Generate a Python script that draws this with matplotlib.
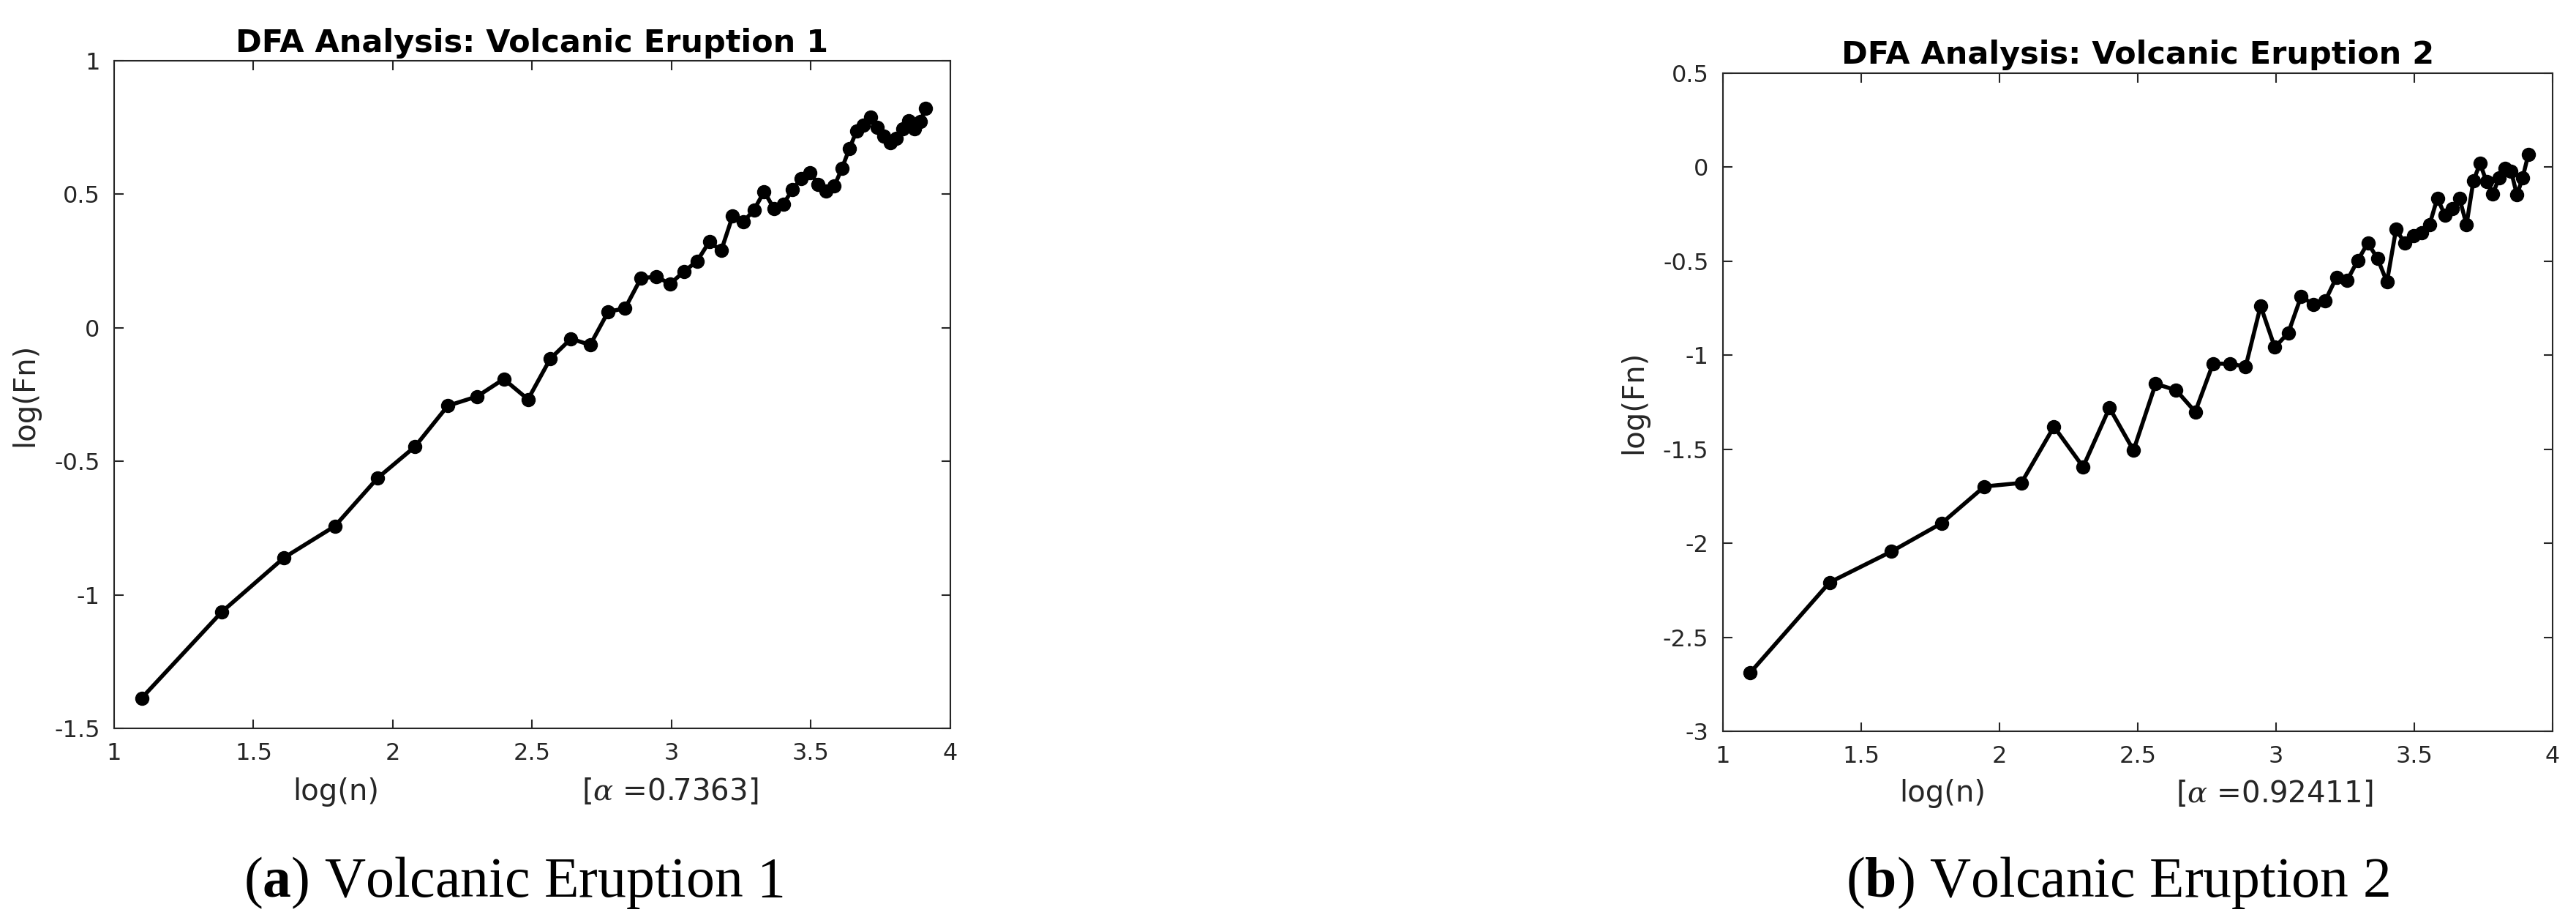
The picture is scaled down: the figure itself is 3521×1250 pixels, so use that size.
import numpy as np
import matplotlib.pyplot as plt
from matplotlib.ticker import FormatStrFormatter

plt.rcParams['font.family'] = 'DejaVu Sans'
plt.rcParams['axes.unicode_minus'] = False
plt.rcParams['mathtext.fontset'] = 'custom'
plt.rcParams['mathtext.rm'] = 'Liberation Serif'
plt.rcParams['mathtext.bf'] = 'Liberation Serif:bold'
plt.rcParams['mathtext.it'] = 'DejaVu Serif:italic'

# window sizes n (x axis is log(n))
window_sizes = [3, 4, 5, 6, 7, 8, 9, 10, 11, 12, 13, 14, 15, 16, 17, 18, 19, 20,
                21, 22, 23, 24, 25, 26, 27, 28, 29, 30, 31, 32, 33, 34, 35, 36,
                37, 38, 39, 40, 41, 42, 43, 44, 45, 46, 47, 48, 49, 50]

# log(Fn), eruption 1
logF_1 = [-1.387, -1.064, -0.861, -0.743, -0.562, -0.445, -0.292, -0.257,
          -0.192, -0.268, -0.116, -0.041, -0.064, 0.060, 0.073, 0.186,
          0.191, 0.165, 0.211, 0.249, 0.322, 0.289, 0.418, 0.397,
          0.442, 0.510, 0.447, 0.464, 0.517, 0.560, 0.581, 0.538,
          0.512, 0.530, 0.596, 0.670, 0.736, 0.760, 0.788, 0.750,
          0.718, 0.692, 0.710, 0.745, 0.775, 0.745, 0.772, 0.823]

# log(Fn), eruption 2
logF_2 = [-2.689, -2.208, -2.044, -1.893, -1.698, -1.679, -1.380, -1.594,
          -1.280, -1.506, -1.152, -1.186, -1.301, -1.044, -1.046, -1.060,
          -0.738, -0.958, -0.881, -0.686, -0.732, -0.710, -0.585, -0.600,
          -0.495, -0.403, -0.486, -0.610, -0.331, -0.403, -0.364, -0.350,
          -0.305, -0.164, -0.256, -0.221, -0.165, -0.306, -0.074, 0.020,
          -0.076, -0.142, -0.056, -0.006, -0.021, -0.148, -0.056, 0.066]

titles = ['DFA Analysis: Volcanic Eruption 1', 'DFA Analysis: Volcanic Eruption 2']
alphas = ['0.7363', '0.92411']
captions = [r'$(\mathbf{a})$ Volcanic Eruption 1', r'$(\mathbf{b})$ Volcanic Eruption 2']
ylims = [(-1.5, 1), (-3, 0.5)]
series = [logF_1, logF_2]

log_n = np.log(window_sizes)

fig = plt.figure(figsize=(35.21, 12.5), dpi=100)
positions = [[0.0443, 0.204, 0.3246, 0.7296], [0.6688, 0.2008, 0.3221, 0.7192]]
caption_x = [0.1995, 0.822]

for i in range(2):
    ax = fig.add_axes(positions[i])
    ax.plot(log_n, series[i], '-o', color='black', lw=4, ms=13)
    ax.set_xlim(1, 4)
    ax.set_ylim(*ylims[i])
    ax.set_xticks(np.arange(1, 4.01, 0.5))
    ax.set_yticks(np.arange(ylims[i][0], ylims[i][1] + 0.01, 0.5))
    ax.xaxis.set_major_formatter(FormatStrFormatter('%g'))
    ax.yaxis.set_major_formatter(FormatStrFormatter('%g'))
    ax.tick_params(direction='in', top=True, right=True, length=9, width=1.5,
                   labelsize=23, colors='#262626', pad=14)
    for sp in ax.spines.values():
        sp.set_linewidth(1.5)
        sp.set_color('#262626')
    ax.set_title(titles[i], fontsize=31, fontweight='bold', pad=9)
    ax.set_ylabel('log(Fn)', fontsize=29, color='#262626', labelpad=14)
    ax.text(0.265, -0.095, 'log(n)', transform=ax.transAxes, fontsize=29,
            color='#262626', ha='center', va='center')
    ax.text(0.665, -0.095, r'[$\alpha$ =' + alphas[i] + ']', transform=ax.transAxes,
            fontsize=29, color='#262626', ha='center', va='center')
    fig.text(caption_x[i], 0.035, captions[i], fontsize=56, family='Liberation Serif',
             ha='center', va='center')

fig.savefig('out.png', dpi=100)
